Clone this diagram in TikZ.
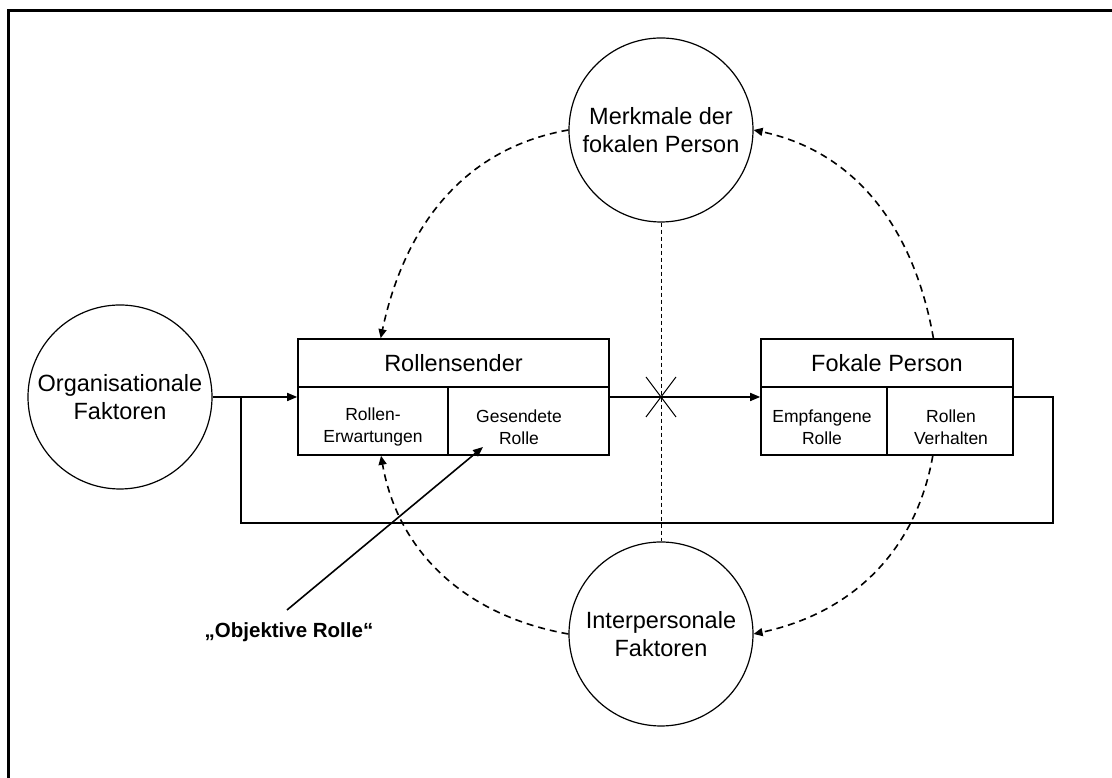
\documentclass[tikz,border=0pt]{standalone}
\usepackage{fontspec}
\setmainfont{Liberation Sans}
\usetikzlibrary{arrows.meta,calc}
\begin{document}
\begin{tikzpicture}[x=1pt,y=1pt,
  factor/.style={draw, circle, line width=1.2pt, minimum size=184pt, inner sep=0pt,
    align=center, font=\fontsize{23.5}{28}\selectfont},
  headcell/.style={draw, rectangle, line width=1.6pt, minimum height=48pt, inner sep=0pt,
    font=\fontsize{23.5}{28}\selectfont},
  subcell/.style={draw, rectangle, line width=1.6pt, minimum height=68pt, inner sep=0pt},
  celltext/.style={align=center, inner sep=0pt, font=\fontsize{17.5}{22}\selectfont},
  flow/.style={line width=1.6pt, -{Triangle[length=10pt,width=8pt]}},
  link/.style={line width=1.6pt},
  influence/.style={line width=1.6pt, dash pattern=on 7pt off 5pt,
    -{Triangle[length=9pt,width=8pt]}},
  divider/.style={line width=1pt, dash pattern=on 4pt off 3pt},
  crossmark/.style={line width=1pt},
  frameline/.style={line width=3pt}
]
\useasboundingbox (0,0) rectangle (1112,778);

% outer frame (left and top edges)
\draw[frameline] (8.5,0) -- (8.5,767.5) -- (1112,767.5);

% influencing factors
\node[factor] (mfp) at (661,648) {Merkmale der\\fokalen Person};
\node[factor] (ipf) at (661,144) {Interpersonale\\Faktoren};
\node[factor] (org) at (120,381) {Organisationale\\Faktoren};

% role sender
\node[headcell, minimum width=311pt] (rsh) at (453.5,415) {Rollensender};
\node[subcell, minimum width=150pt] (rse) at (373,357) {};
\node[subcell, minimum width=161pt] (rsg) at (528.5,357) {};
\node[celltext] (rset) at (373,351) {Rollen-\\Erwartungen};
\node[celltext] (rsgt) at (519,351) {Gesendete\\Rolle};

% focal person
\node[headcell, minimum width=252pt] (fph) at (887,415) {Fokale Person};
\node[subcell, minimum width=126pt] (fpe) at (824,357) {};
\node[subcell, minimum width=126pt] (fpv) at (950,357) {};
\node[celltext] (fpet) at (822,351) {Empfangene\\Rolle};
\node[celltext] (fpvt) at (951,351) {Rollen\\Verhalten};

% main flow
\draw[flow] (org.east) -- (org.east -| rsh.west);
\draw[flow] (rsg.east |- org.east) -- (fpe.west |- org.east);

% feedback loop
\coordinate (loopne) at (1053,381);
\coordinate (loopse) at (1053,255);
\coordinate (loopsw) at (241,255);
\draw[link] (fpv.east |- org.east) -- (loopne) -- (loopse) -- (loopsw) -- (loopsw |- org.east);

% separation line and blocked transmission
\draw[divider] (mfp.south) -- (ipf.north);
\coordinate (block) at (mfp.south |- org.east);
\draw[crossmark] ($(block)+(-15,20)$) -- ($(block)+(15,-20)$);
\draw[crossmark] ($(block)+(-15,-20)$) -- ($(block)+(15,20)$);

% influence arcs
\draw[influence] (mfp.west) to[out=190,in=78] ($(rsh.north west)!0.267!(rsh.north east)$);
\draw[influence] ($(fph.north west)!0.683!(fph.north east)$) to[out=100,in=-12] (mfp.east);
\draw[influence] ($(fpv.south west)!0.365!(fpv.south east)$) to[out=260,in=12] (ipf.east);
\draw[influence] (ipf.west) to[out=170,in=280] ($(rse.south west)!0.553!(rse.south east)$);

% objective role
\node[inner sep=0pt, font=\bfseries\fontsize{20.5}{24}\selectfont] (obj) at (289,146) {„Objektive Rolle“};
\coordinate (objstart) at (287,168);
\coordinate (gtip) at (483,331);
\draw[flow] (objstart) -- (gtip);
\end{tikzpicture}
\end{document}
